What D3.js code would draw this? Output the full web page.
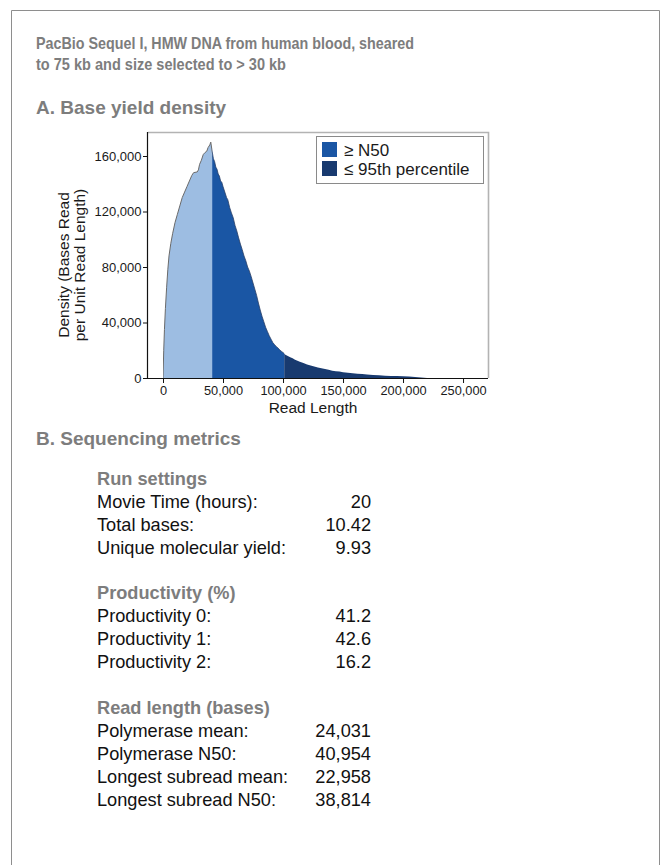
<!DOCTYPE html>
<html>
<head>
<meta charset="utf-8">
<script src="https://cdn.jsdelivr.net/npm/d3@7"></script>
<style>
  html, body { margin: 0; padding: 0; background: #fff; }
  svg { display: block; font-family: "Liberation Sans", Arial, Helvetica, sans-serif; }
</style>
</head>
<body>
<svg id="chart" width="671" height="865"></svg>
<script>
// ---------- DATA ----------
const titleLines = ["PacBio Sequel I, HMW DNA from human blood, sheared",
                    "to 75 kb and size selected to > 30 kb"];
const sectionA = "A. Base yield density";
const sectionB = "B. Sequencing metrics";

const readLength = [0, 600, 1200, 2000, 3000, 4000, 5000, 6500, 8000, 10000, 12000, 14000, 16000, 18000,
  20000, 22000, 24000, 25500, 28500, 29500, 30500, 32000, 33500, 35000, 36500, 37500, 39000, 39800,
  41000, 42000, 43000, 44000, 45000, 46000, 47000, 48000, 49000, 50000, 51500, 53000, 54000, 55500,
  57000, 58500, 60000, 61500, 63000, 64500, 66000, 67500, 69000, 70500, 72000, 73500, 75000, 76500,
  78000, 79500, 81000, 82500, 84000, 85500, 87000, 88500, 90000, 91500, 93000, 94500, 96000, 97500,
  99000, 100500, 102000, 104000, 106000, 108000, 110000, 112000, 114000, 117000, 120000, 123000,
  126000, 129000, 132000, 135000, 138000, 141000, 144000, 147000, 150000, 154000, 158000, 162000,
  166000, 170000, 175000, 180000, 185000, 190000, 195000, 200000, 205000, 210000, 215000, 220000];
const density = [0, 20000, 35000, 50000, 65000, 78000, 88000, 97000, 104000, 112000, 118000, 124000, 130000, 134000,
  138000, 142000, 146000, 148000, 148500, 150000, 154000, 157000, 161000, 162500, 163500, 166000, 168000, 170000,
  163000, 158000, 156000, 152000, 150500, 147000, 145500, 142000, 141000, 138000, 134000, 130000, 128500, 123000,
  119000, 115500, 110000, 106000, 101000, 96500, 92500, 88000, 84500, 80000, 77000, 73000, 68500, 64000,
  59500, 54000, 49000, 44500, 40500, 36500, 33500, 30500, 28000, 25500, 24000, 22500, 21500, 20000,
  19000, 18000, 16800, 15800, 15000, 14200, 13200, 12500, 11800, 10800, 9800, 9000,
  8300, 7600, 7000, 6400, 5900, 5300, 4900, 4600, 4200, 3800, 3400, 3100,
  2800, 2500, 2200, 1900, 1700, 1500, 1400, 1200, 1000, 700, 400, 0];

const n50 = 40954;
const p95 = 101000;

const xTicks = [0, 50000, 100000, 150000, 200000, 250000];
const yTicks = [0, 40000, 80000, 120000, 160000];
const xLabel = "Read Length";
const yLabelLines = ["Density (Bases Read", "per Unit Read Length)"];
const legendLabels = ["\u2265 N50", "\u2264 95th percentile"];

const metricGroups = ["Run settings", "Productivity (%)", "Read length (bases)"];
const metricLabels = [
  ["Movie Time (hours):", "Total bases:", "Unique molecular yield:"],
  ["Productivity 0:", "Productivity 1:", "Productivity 2:"],
  ["Polymerase mean:", "Polymerase N50:", "Longest subread mean:", "Longest subread N50:"]
];
const metricValues = [
  ["20", "10.42", "9.93"],
  ["41.2", "42.6", "16.2"],
  ["24,031", "40,954", "22,958", "38,814"]
];

// ---------- STYLE / LAYOUT ----------
const gray = "#7d7d7d";
const colLight = "#9dbde2";
const colMid = "#1a56a4";
const colDark = "#183a6f";

const svg = d3.select("#chart");

// outer border (open at bottom)
svg.append("path")
  .attr("d", "M11.5,880 L11.5,10.5 L659.5,10.5 L659.5,880")
  .attr("fill", "none").attr("stroke", "#8e8e8e").attr("stroke-width", 1);

// title
const titleBaselines = [48.5, 70];
const titleWidths = [378, 250];
titleLines.forEach((t, i) => {
  svg.append("text").attr("x", 36).attr("y", titleBaselines[i])
    .attr("font-size", 17).attr("font-weight", "bold").attr("fill", gray)
    .attr("textLength", titleWidths[i]).attr("lengthAdjust", "spacingAndGlyphs")
    .text(t);
});

svg.append("text").attr("x", 36).attr("y", 113.5)
  .attr("font-size", 19).attr("font-weight", "bold").attr("fill", gray).text(sectionA);

// ---------- PLOT ----------
const plotL = 148, plotR = 488, plotT = 132, plotB = 378;
const xMin = -12500, xMax = 270800;
const x = d3.scaleLinear().domain([xMin, xMax]).range([plotL, plotR]);
const y = d3.scaleLinear().domain([0, 177300]).range([plotB, plotT]);

const pts = readLength.map((r, i) => ({ r, d: density[i] }));
const area = d3.area().x(p => x(p.r)).y0(y(0)).y1(p => y(p.d));
const line = d3.line().x(p => x(p.r)).y(p => y(p.d));

const defs = svg.append("defs");
const segs = [
  { id: "c1", from: 0, to: n50, color: colLight },
  { id: "c2", from: n50, to: p95, color: colMid },
  { id: "c3", from: p95, to: xMax, color: colDark }
];
segs.forEach(s => {
  defs.append("clipPath").attr("id", s.id).append("rect")
    .attr("x", x(s.from)).attr("y", plotT)
    .attr("width", x(s.to) - x(s.from)).attr("height", plotB - plotT);
  svg.append("path").datum(pts).attr("d", area)
    .attr("fill", s.color).attr("clip-path", `url(#${s.id})`);
});
svg.append("path").datum(pts).attr("d", line)
  .attr("fill", "none").attr("stroke", "#6a6a6a").attr("stroke-width", 1)
  .attr("clip-path", "url(#c1)");
svg.append("path").datum(pts).attr("d", line)
  .attr("fill", "none").attr("stroke", "#2a3f66").attr("stroke-width", 0.8)
  .attr("clip-path", "url(#c2)");

// frame: top & right light gray
svg.append("path")
  .attr("d", `M${plotL},${plotT + 0.5} L${plotR + 0.5},${plotT + 0.5} L${plotR + 0.5},${plotB}`)
  .attr("fill", "none").attr("stroke", "#b3b3b3").attr("stroke-width", 1.6);

// axes
const xAxis = d3.axisBottom(x).tickValues(xTicks).tickSize(5).tickSizeOuter(0)
  .tickFormat(d3.format(","));
const gx = svg.append("g").attr("transform", `translate(0,${plotB})`).call(xAxis);
gx.select(".domain").remove();
gx.selectAll("text").attr("font-size", 12.8).attr("fill", "#1a1a1a").attr("dy", "0.68em")
  .attr("font-family", "Liberation Sans, Arial, sans-serif");
gx.selectAll("line").attr("stroke", "#111");

const yAxis = d3.axisLeft(y).tickValues(yTicks).tickSize(5).tickSizeOuter(0)
  .tickFormat(d3.format(","));
const gy = svg.append("g").attr("transform", `translate(${plotL},0)`).call(yAxis);
gy.select(".domain").remove();
gy.selectAll("text").attr("font-size", 13).attr("fill", "#1a1a1a").attr("x", -6.5)
  .attr("font-family", "Liberation Sans, Arial, sans-serif");
gy.selectAll("line").attr("stroke", "#111");

svg.append("line").attr("x1", plotL).attr("x2", plotR).attr("y1", plotB + 0.5).attr("y2", plotB + 0.5)
  .attr("stroke", "#111").attr("stroke-width", 1.2);
svg.append("line").attr("x1", plotL - 0.5).attr("x2", plotL - 0.5).attr("y1", plotT).attr("y2", plotB + 1)
  .attr("stroke", "#111").attr("stroke-width", 1.2);

// axis titles
svg.append("text").attr("x", (x(0) + x(250000)) / 2).attr("y", 413)
  .attr("text-anchor", "middle").attr("font-size", 15.5).attr("fill", "#1a1a1a").text(xLabel);
yLabelLines.forEach((t, i) => {
  svg.append("text").attr("transform", `translate(${69 + i * 16},265) rotate(-90)`)
    .attr("text-anchor", "middle").attr("font-size", 15.5).attr("fill", "#1a1a1a").text(t);
});

// legend
const lg = svg.append("g");
lg.append("rect").attr("x", 316.5).attr("y", 136.5).attr("width", 167).attr("height", 47)
  .attr("fill", "#fff").attr("stroke", "#8a8a8a").attr("stroke-width", 1);
[colMid, colDark].forEach((c, i) => {
  lg.append("rect").attr("x", 322).attr("y", 142 + i * 19).attr("width", 15).attr("height", 15).attr("fill", c);
  lg.append("text").attr("x", 344).attr("y", 155.5 + i * 19).attr("font-size", 17)
    .attr("fill", "#1a1a1a").text(legendLabels[i]);
});

// ---------- SECTION B ----------
svg.append("text").attr("x", 36).attr("y", 445)
  .attr("font-size", 19).attr("font-weight", "bold").attr("fill", gray).text(sectionB);

const groupBaselines = [484.5, 598.5, 713.5];
const rowPitch = 23;
metricGroups.forEach((g, gi) => {
  const b0 = groupBaselines[gi];
  svg.append("text").attr("x", 97).attr("y", b0).attr("font-size", 18.2)
    .attr("font-weight", "bold").attr("fill", gray).text(g);
  metricLabels[gi].forEach((lab, ri) => {
    const by = b0 + (ri + 1) * rowPitch;
    svg.append("text").attr("x", 97).attr("y", by).attr("font-size", 18.2)
      .attr("fill", "#111").text(lab);
    svg.append("text").attr("x", 371).attr("y", by).attr("font-size", 18.2)
      .attr("text-anchor", "end").attr("fill", "#111").text(metricValues[gi][ri]);
  });
});
</script>
</body>
</html>
